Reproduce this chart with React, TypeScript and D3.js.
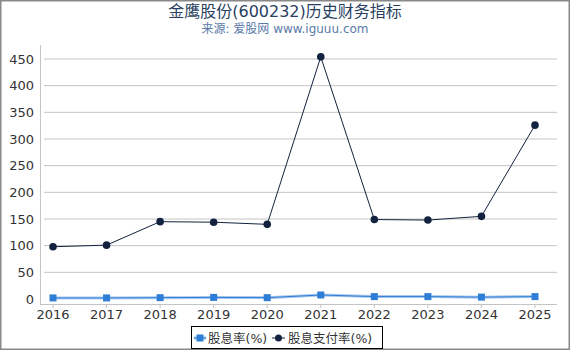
import * as d3 from 'd3';

const years = ['2016', '2017', '2018', '2019', '2020', '2021', '2022', '2023', '2024', '2025'];
const dividendYield = [2.0, 2.0, 2.5, 3.0, 2.5, 7.5, 4.5, 4.5, 3.5, 4.5];
const payoutRatio = [98, 101, 145, 144, 140, 454, 149, 148, 155, 326];
const yTicks = [0, 50, 100, 150, 200, 250, 300, 350, 400, 450];

const W = 570;
const H = 350;
const font = '"DejaVu Sans", "Noto Sans CJK SC", sans-serif';

const App = () => {
  const x = d3.scalePoint<string>().domain(years).range([53, 535]);
  const y = d3.scaleLinear().domain([0, 450]).range([299, 59]);

  const line = d3.line<number>()
    .x((_, i) => x(years[i]) as number)
    .y(d => y(d));

  return (
    <svg width={W} height={H} style={{ position: 'absolute', left: 0, top: 0, background: '#fff' }}>
      <rect x={0.75} y={0.75} width={W - 1.5} height={H - 1.5} fill="#fff" stroke="#888" strokeWidth={1.5} />
      <text x={W / 2} y={17} textAnchor="middle" fontSize={16} fill="#2a3f5f" fontFamily={font}>
        金鹰股份(600232)历史财务指标
      </text>
      <text x={W / 2} y={33} textAnchor="middle" fontSize={12} fill="#5a7aa8" fontFamily={font}>
        来源: 爱股网 www.iguuu.com
      </text>

      {/* grid */}
      {yTicks.map(t => (
        <g key={t}>
          {t > 0 && <line x1={44} x2={557} y1={y(t)} y2={y(t)} stroke="#c4c4c4" strokeWidth={1} />}
          <text x={34} y={y(t) + 4.5} textAnchor="end" fontSize={13} fill="#333" fontFamily={font}>{t}</text>
        </g>
      ))}
      <line x1={40.5} x2={40.5} y1={45} y2={304} stroke="#c4c4c4" strokeWidth={1} />
      <line x1={40} x2={557} y1={304.5} y2={304.5} stroke="#c4c4c4" strokeWidth={1} />
      {years.map(yr => (
        <g key={yr}>
          <line x1={x(yr)} x2={x(yr)} y1={304} y2={308} stroke="#c4c4c4" />
          <text x={x(yr)} y={319} textAnchor="middle" fontSize={13} fill="#333" fontFamily={font}>{yr}</text>
        </g>
      ))}

      {/* dividend yield */}
      <path d={line(dividendYield) ?? ''} fill="none" stroke="#a9c8ee" strokeWidth={3} />
      <path d={line(dividendYield) ?? ''} fill="none" stroke="#2e7dd6" strokeWidth={1} />
      {dividendYield.map((v, i) => (
        <rect key={i} x={(x(years[i]) as number) - 3.5} y={y(v) - 3.5} width={7} height={7} fill="#2e7dd6" />
      ))}

      {/* payout ratio */}
      <path d={line(payoutRatio) ?? ''} fill="none" stroke="#13233f" strokeWidth={1} />
      {payoutRatio.map((v, i) => (
        <circle key={i} cx={x(years[i]) as number} cy={y(v)} r={3.8} fill="#13233f" />
      ))}

      {/* legend */}
      <rect x={191.5} y={326.5} width={191} height={22} fill="#fff" stroke="#000" strokeWidth={1} />
      <line x1={194} x2={206} y1={338} y2={338} stroke="#a9c8ee" strokeWidth={3} />
      <line x1={194} x2={206} y1={338} y2={338} stroke="#2e7dd6" strokeWidth={1} />
      <rect x={196.5} y={334.5} width={7} height={7} fill="#2e7dd6" />
      <text x={208} y={342.5} fontSize={12.5} fill="#333" fontFamily={font}>股息率(%)</text>
      <line x1={272} x2={285} y1={338} y2={338} stroke="#13233f" strokeWidth={1} />
      <circle cx={278.5} cy={338} r={3.5} fill="#13233f" />
      <text x={288} y={342.5} fontSize={12.5} fill="#333" fontFamily={font}>股息支付率(%)</text>
    </svg>
  );
};

export default App;
